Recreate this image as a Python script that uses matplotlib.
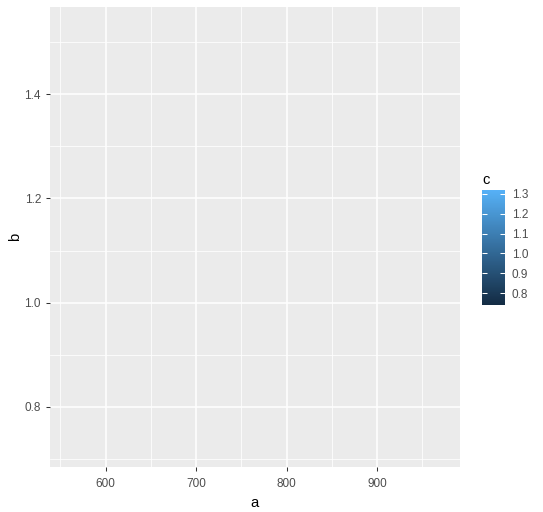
import matplotlib
matplotlib.use("Agg")
import matplotlib.pyplot as plt
import matplotlib.colors as mcolors
import numpy as np

plt.rcParams['font.family'] = ['Liberation Sans', 'DejaVu Sans']

a = [559, 971]
b = [0.725, 1.527]
c = [0.74, 1.32]

x_major = [600, 700, 800, 900]
x_minor = [550, 650, 750, 850, 950]
y_major = [0.8, 1.0, 1.2, 1.4]
y_minor = [0.7, 0.9, 1.1, 1.3, 1.5]
c_ticks = [0.8, 0.9, 1.0, 1.1, 1.2, 1.3]

W, H = 543, 512
fig = plt.figure(figsize=(W / 100, H / 100), dpi=100)
fig.patch.set_facecolor("white")

ax = fig.add_axes([50 / W, 1 - 467 / H, 410 / W, 460 / H])
ax.set_facecolor("#EBEBEB")

cmap = mcolors.LinearSegmentedColormap.from_list("gg", ["#132B43", "#56B1F7"])
norm = mcolors.Normalize(vmin=min(c), vmax=max(c))
sc = ax.scatter(a, b, c=c, cmap=cmap, norm=norm, alpha=0)
ax.margins(0.05)

for s in ax.spines.values():
    s.set_visible(False)

ax.set_xticks(x_major)
ax.set_xticks(x_minor, minor=True)
ax.set_yticks(y_major)
ax.set_yticks(y_minor, minor=True)
ax.set_xticklabels([str(v) for v in x_major])
ax.set_yticklabels(["%.1f" % v for v in y_major])
ax.grid(True, which="major", color="white", lw=1.1)
ax.grid(True, which="minor", color="white", lw=0.55)
ax.set_axisbelow(True)
ax.tick_params(which="major", length=2.9, width=0.75, color="#333333",
               labelsize=8.45, labelcolor="#4D4D4D", pad=3.6)
ax.tick_params(axis="x", which="major", pad=4.8)
ax.tick_params(which="minor", length=0)
ax.set_xlabel("a", fontsize=10.6, color="black", labelpad=4.5)
ax.set_ylabel("b", fontsize=10.6, color="black", labelpad=1.5)

# colour bar legend
cax = fig.add_axes([482 / W, 1 - 305 / H, 23 / W, 115 / H])
cb = fig.colorbar(matplotlib.cm.ScalarMappable(norm=norm, cmap=cmap), cax=cax)
cb.outline.set_visible(False)
cb.set_ticks(c_ticks)
cb.set_ticklabels(["%.1f" % v for v in c_ticks])
cax.tick_params(direction="in", length=3.3, width=0.75, color="white",
                left=True, right=True, labelsize=8.45, labelcolor="#4D4D4D", pad=4.8)
fig.text(482 / W, 1 - 180 / H, "c", fontsize=10.6, ha="left", va="center")

fig.savefig("out.png", dpi=100)
